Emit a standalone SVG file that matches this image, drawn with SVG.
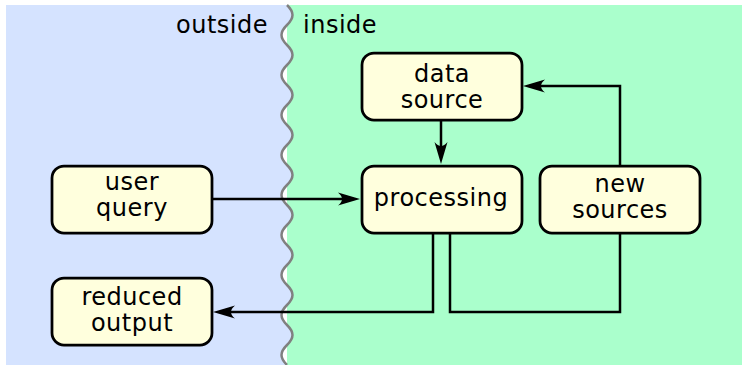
<svg xmlns="http://www.w3.org/2000/svg" width="742" height="365" viewBox="0 0 742 365">
<defs>
<style>
.box{fill:#ffffdd;stroke:#000;stroke-width:2.75}
.lbl{font-family:"DejaVu Sans","Liberation Sans",sans-serif;font-size:24px;letter-spacing:0.5px;fill:#000;text-anchor:middle}
.zone{font-family:"DejaVu Sans","Liberation Sans",sans-serif;font-size:24px;letter-spacing:0.5px;fill:#000}
.con{fill:none;stroke:#000;stroke-width:2.5;stroke-linejoin:miter}
</style>
<marker id="arr" markerUnits="userSpaceOnUse" markerWidth="26" markerHeight="16" viewBox="-23 -8 26 16" refX="-10" refY="0" orient="auto">
<path d="M0,0 L-22,-6.5 Q-14,0 -22,6.5 Z" fill="#000"/>
</marker>
</defs>
<g id="background">
<rect x="287" y="5" width="455" height="360" fill="#aaffcc"/>
<path d="M6,5 H287 c7.33,7.2 7.33,12.8 0,20 c-7.33,7.2 -7.33,12.8 0,20 c7.33,7.2 7.33,12.8 0,20 c-7.33,7.2 -7.33,12.8 0,20 c7.33,7.2 7.33,12.8 0,20 c-7.33,7.2 -7.33,12.8 0,20 c7.33,7.2 7.33,12.8 0,20 c-7.33,7.2 -7.33,12.8 0,20 c7.33,7.2 7.33,12.8 0,20 c-7.33,7.2 -7.33,12.8 0,20 c7.33,7.2 7.33,12.8 0,20 c-7.33,7.2 -7.33,12.8 0,20 c7.33,7.2 7.33,12.8 0,20 c-7.33,7.2 -7.33,12.8 0,20 c7.33,7.2 7.33,12.8 0,20 c-7.33,7.2 -7.33,12.8 0,20 c7.33,7.2 7.33,12.8 0,20 c-7.33,7.2 -7.33,12.8 0,20 H6 Z" fill="#d5e3ff"/>
<path d="M287,5 c7.33,7.2 7.33,12.8 0,20 c-7.33,7.2 -7.33,12.8 0,20 c7.33,7.2 7.33,12.8 0,20 c-7.33,7.2 -7.33,12.8 0,20 c7.33,7.2 7.33,12.8 0,20 c-7.33,7.2 -7.33,12.8 0,20 c7.33,7.2 7.33,12.8 0,20 c-7.33,7.2 -7.33,12.8 0,20 c7.33,7.2 7.33,12.8 0,20 c-7.33,7.2 -7.33,12.8 0,20 c7.33,7.2 7.33,12.8 0,20 c-7.33,7.2 -7.33,12.8 0,20 c7.33,7.2 7.33,12.8 0,20 c-7.33,7.2 -7.33,12.8 0,20 c7.33,7.2 7.33,12.8 0,20 c-7.33,7.2 -7.33,12.8 0,20 c7.33,7.2 7.33,12.8 0,20 c-7.33,7.2 -7.33,12.8 0,20" fill="none" stroke="#808080" stroke-width="2.5"/>
<text class="zone" x="268" y="33" text-anchor="end">outside</text>
<text class="zone" x="303" y="33">inside</text>
</g>
<g id="connectors">
<path class="con" d="M441,120 V154" marker-end="url(#arr)"/>
<path class="con" d="M620,166 V86 H533" marker-end="url(#arr)"/>
<path class="con" d="M212,199 H350" marker-end="url(#arr)"/>
<path class="con" d="M433,233 V312 H223" marker-end="url(#arr)"/>
<path class="con" d="M450,233 V312 H620 V233"/>
</g>
<g id="data-source">
<rect class="box" x="362" y="53" width="160" height="67" rx="12"/>
<text class="lbl" x="442" y="82">data</text>
<text class="lbl" x="442" y="108">source</text>
</g>
<g id="processing">
<rect class="box" x="362" y="166" width="160" height="67" rx="12"/>
<text class="lbl" x="441" y="206">processing</text>
</g>
<g id="new-sources">
<rect class="box" x="540" y="166" width="160" height="67" rx="12"/>
<text class="lbl" x="620" y="192">new</text>
<text class="lbl" x="620" y="218">sources</text>
</g>
<g id="user-query">
<rect class="box" x="52" y="166" width="160" height="67" rx="12"/>
<text class="lbl" x="132" y="190">user</text>
<text class="lbl" x="132" y="216">query</text>
</g>
<g id="reduced-output">
<rect class="box" x="52" y="278" width="160" height="67" rx="12"/>
<text class="lbl" x="132" y="305">reduced</text>
<text class="lbl" x="132" y="331">output</text>
</g>
</svg>
